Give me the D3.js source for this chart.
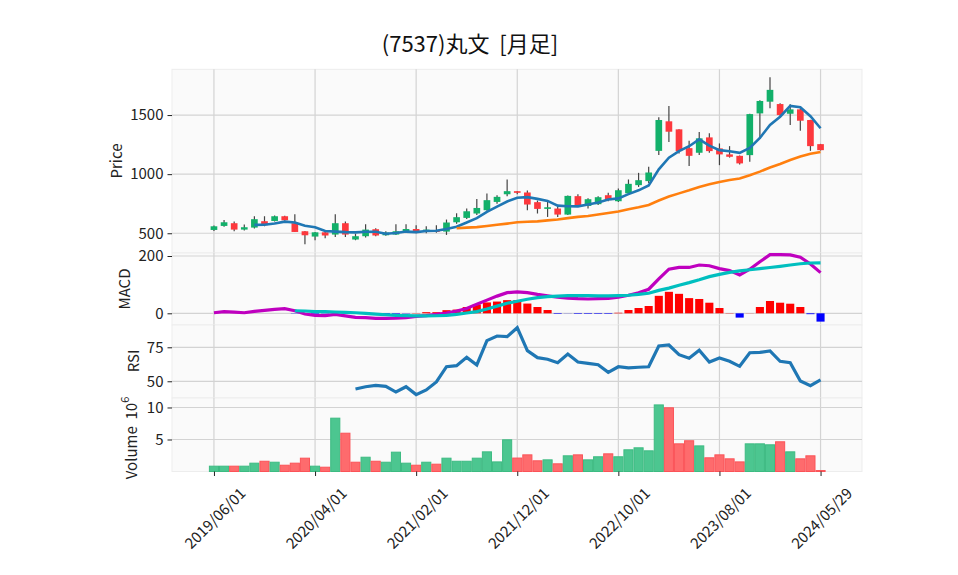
<!DOCTYPE html>
<html><head><meta charset="utf-8">
<script src="https://cdn.jsdelivr.net/npm/d3@7"></script>
<style>
body{margin:0;background:#fff}
text{font-family:"Noto Sans CJK JP","DejaVu Sans",sans-serif}
</style>
</head><body><svg id="c" width="958" height="575"></svg>
<script>
// ---------------- data ----------------
const dates = ["2019/06/01","2019/07/01","2019/08/01","2019/09/01","2019/10/01","2019/11/01","2019/12/01",
"2020/01/01","2020/02/01","2020/03/01","2020/04/01","2020/05/01","2020/06/01","2020/07/01","2020/08/01","2020/09/01","2020/10/01","2020/11/01","2020/12/01",
"2021/01/01","2021/02/01","2021/03/01","2021/04/01","2021/05/01","2021/06/01","2021/07/01","2021/08/01","2021/09/01","2021/10/01","2021/11/01","2021/12/01",
"2022/01/01","2022/02/01","2022/03/01","2022/04/01","2022/05/01","2022/06/01","2022/07/01","2022/08/01","2022/09/01","2022/10/01","2022/11/01","2022/12/01",
"2023/01/01","2023/02/01","2023/03/01","2023/04/01","2023/05/01","2023/06/01","2023/07/01","2023/08/01","2023/09/01","2023/10/01","2023/11/01","2023/12/01",
"2024/01/01","2024/02/01","2024/03/01","2024/04/01","2024/05/01","2024/05/29"];
const opens  = [528,562,585,531,548,602,604,644,585,517,472,508,489,585,447,475,534,483,489,506,536,515,527,514,593,630,667,695,765,830,856,845,763,706,709,658,814,731,746,822,771,838,907,941,1197,1447,1379,1220,1181,1311,1218,1167,1155,1161,1514,1613,1593,1511,1548,1458,1254];
const highs  = [565,612,599,574,644,644,650,648,661,520,510,512,661,599,497,576,542,517,576,576,568,559,568,616,669,709,790,836,822,955,858,862,777,771,729,819,830,797,814,842,879,955,1011,1062,1481,1576,1380,1282,1356,1345,1260,1237,1158,1512,1625,1820,1600,1591,1555,1460,1256];
const lows   = [520,556,517,523,540,559,600,605,511,407,441,458,469,469,441,464,475,478,485,504,500,500,505,486,580,620,655,690,750,813,830,695,667,638,638,655,723,709,740,771,765,830,892,926,1161,1271,1175,1068,1161,1181,1076,1140,1082,1104,1297,1557,1495,1415,1367,1197,1200];
const closes = [559,593,531,551,619,568,644,610,511,483,508,481,585,489,475,531,481,506,517,536,508,531,511,591,636,686,714,780,808,856,842,743,706,720,658,816,737,788,805,780,864,918,949,1014,1458,1359,1195,1155,1303,1195,1167,1147,1091,1508,1619,1713,1500,1548,1452,1237,1203];
const volumesM = [0.83,0.83,0.83,0.83,1.3,1.6,1.45,0.98,1.3,2.08,0.83,0.67,8.33,5.98,1.45,2.23,1.6,1.45,3.02,1.3,0.98,1.45,1.14,2.08,1.6,1.6,2.08,3.07,1.5,4.95,2.1,2.6,1.67,1.82,1.2,2.45,2.6,1.82,2.3,2.76,2.3,3.39,3.7,3.23,10.4,9.95,4.32,4.8,4.0,2.14,2.6,1.98,1.5,4.32,4.32,4.17,4.64,3.07,1.98,2.45,0.15];
const macdLine = [2,5.6,4,2,7,10.5,14,16,9,-2.4,-7,-8,-4,-9,-14,-15,-18,-18,-17,-15,-11,-8,-4,1,8,17,32,46,60,72,75,72,66,61,56,53,51,50,51,52,56,63,72,84,120,154,160.5,160,168.6,166,156,149,134,154,180,204.6,205,204,195.6,172,142];
const signalLine = [null,null,null,null,null,null,null,null,9,8,6,6,4.5,3.5,2,0,-2.7,-5,-7,-8,-9,-9,-8.5,-7,-4,1,6,15,25,35,42,49,55,58,60,62,62,62,61,61,62,63,66,70,80,88,98,107,117,128,136,143,148,152,156,160,164,168.6,173,175.6,176];
const macdHist = [null,null,null,null,null,null,null,null,-1,-2,-2,-1,-1,-1,-1,-1,-3,-3,-2,-1,1,4,4,11,13,22,31,38,41,46,46,34,22,11.5,-2,-0.5,-2,-2,-2,-2,2,11.5,18.5,25.5,61,75,68,53,50,37,18.5,1,-15,0.5,22,43,37,33.5,22,-3,-29];
const rsiValues = [null,null,null,null,null,null,null,null,null,null,null,null,null,null,44.3,46,47,46.3,42.1,46,40.2,43.6,49.5,60.7,61.5,67.6,62,79.9,83.3,82.8,89.4,72.5,67.4,66.2,63.7,70.1,64.2,63.2,62.2,56.6,60.7,59.8,60.3,60.7,76,76.7,69.6,66.9,72.8,64.2,67.1,64.7,61,71,71.3,72.3,64.7,63.7,50.2,46.8,51];
const xTickIdx = [0,10,20,30,40,50,60];
const priceTicks = [500,1000,1500];
const macdTicks = [0,200];
const rsiTicks = [50,75];
const volTicks = [5,10];
const maPeriods = [5,25];
const titleText = "(7537)丸文\u00a0\u00a0[月足]";

// ---------------- layout ----------------
const FONT = '"Noto Sans CJK JP","DejaVu Sans",sans-serif';
const FS = 15;
const svg = d3.select("#c");
const L = 172, R = 862;
const panels = {
  price:{top:69.3,bottom:253},
  macd:{top:253,bottom:325},
  rsi:{top:325,bottom:398},
  vol:{top:398,bottom:471.5}
};
const x = d3.scaleLinear().domain([-4.15,64.1]).range([L,R]);
const yP = d3.scaleLinear().domain([333,1887]).range([panels.price.bottom,panels.price.top]);
const yM = d3.scaleLinear().domain([-40.8,210.5]).range([panels.macd.bottom,panels.macd.top]);
const yR = d3.scaleLinear().domain([37.7,91.4]).range([panels.rsi.bottom,panels.rsi.top]);
const yV = d3.scaleLinear().domain([0,11.48]).range([panels.vol.bottom,panels.vol.top]);

const UP="#12b06a", DOWN="#fd383d";
const VUP="#4cc690", VDOWN="#fe6b6d", VUPE="#3dbb82", VDOWNE="#fb5358";
const GRID="#d3d3d3";

function panel(p, y, ticks){
  const g = svg.append("g");
  g.append("rect").attr("x",L).attr("y",p.top).attr("width",R-L).attr("height",p.bottom-p.top)
    .attr("fill","#fafafa").attr("stroke","#ededed").attr("stroke-width",1);
  g.selectAll("line.v").data(xTickIdx).join("line")
    .attr("x1",d=>x(d)).attr("x2",d=>x(d)).attr("y1",p.top).attr("y2",p.bottom)
    .attr("stroke",GRID).attr("stroke-width",1.2);
  g.selectAll("line.h").data(ticks).join("line")
    .attr("x1",L).attr("x2",R).attr("y1",d=>y(d)).attr("y2",d=>y(d))
    .attr("stroke",GRID).attr("stroke-width",1.2);
  const ax = svg.append("g").attr("transform",`translate(${L},0)`)
    .call(d3.axisLeft(y).tickValues(ticks).tickFormat(d3.format("d")).tickSize(4.5).tickPadding(4));
  ax.select(".domain").remove();
  ax.selectAll("text").attr("font-size",FS).attr("fill","#222").style("font-family",FONT);
  ax.selectAll("line").attr("stroke","#222");
  return g;
}
panel(panels.price,yP,priceTicks);
panel(panels.macd,yM,macdTicks);
panel(panels.rsi,yR,rsiTicks);
panel(panels.vol,yV,volTicks);

const idx = d3.range(dates.length);

// ---------------- candles ----------------
const cg = svg.append("g");
cg.selectAll("line.wick").data(idx).join("line")
  .attr("x1",i=>x(i)).attr("x2",i=>x(i)).attr("y1",i=>yP(highs[i])).attr("y2",i=>yP(lows[i]))
  .attr("stroke","#444").attr("stroke-width",1.2);
const bw = (x(1)-x(0))*0.66;
cg.selectAll("rect.body").data(idx).join("rect")
  .attr("x",i=>x(i)-bw/2).attr("width",bw)
  .attr("y",i=>yP(Math.max(opens[i],closes[i])))
  .attr("height",i=>Math.max(1.2,Math.abs(yP(opens[i])-yP(closes[i]))))
  .attr("fill",i=>closes[i]>=opens[i]?UP:DOWN);

// moving averages (rolling mean of closes)
const maColors = ["#1f77b4","#ff7f0e"];
maPeriods.forEach((p,k)=>{
  const ma = closes.map((c,i)=> i<p-1?null:d3.mean(closes.slice(i-p+1,i+1)));
  svg.append("path").datum(idx.filter(i=>ma[i]!==null))
    .attr("d",d3.line().x(i=>x(i)).y(i=>yP(ma[i])))
    .attr("fill","none").attr("stroke",maColors[k]).attr("stroke-width",2.6);
});

// ---------------- MACD ----------------
const hw = (x(1)-x(0))*0.8;
svg.append("g").selectAll("rect").data(idx.filter(i=>macdHist[i]!==null)).join("rect")
  .attr("x",i=>x(i)-hw/2).attr("width",hw)
  .attr("y",i=>yM(Math.max(0,macdHist[i]))).attr("height",i=>Math.abs(yM(macdHist[i])-yM(0)))
  .attr("fill",i=>macdHist[i]>=0?"#ff0000":"#0000ff");
svg.append("path").datum(idx)
  .attr("d",d3.line().x(i=>x(i)).y(i=>yM(macdLine[i])))
  .attr("fill","none").attr("stroke","#bf00bf").attr("stroke-width",3.2);
svg.append("path").datum(idx.filter(i=>signalLine[i]!==null))
  .attr("d",d3.line().x(i=>x(i)).y(i=>yM(signalLine[i])))
  .attr("fill","none").attr("stroke","#00bfbf").attr("stroke-width",3.2);

// ---------------- RSI ----------------
svg.append("path").datum(idx.filter(i=>rsiValues[i]!==null))
  .attr("d",d3.line().x(i=>x(i)).y(i=>yR(rsiValues[i])))
  .attr("fill","none").attr("stroke","#1f77b4").attr("stroke-width",3.2);

// ---------------- Volume ----------------
const vw = (x(1)-x(0));
svg.append("g").selectAll("rect").data(idx).join("rect")
  .attr("x",i=>x(i)-vw/2+0.5).attr("width",vw-1)
  .attr("y",i=>yV(volumesM[i])).attr("height",i=>yV(0)-yV(volumesM[i]))
  .attr("fill",i=>(i===0||closes[i]>=closes[i-1])?VUP:VDOWN)
  .attr("stroke",i=>(i===0||closes[i]>=closes[i-1])?VUPE:VDOWNE).attr("stroke-width",1);

// ---------------- X axis ----------------
const xa = svg.append("g").attr("transform",`translate(0,${panels.vol.bottom})`)
  .call(d3.axisBottom(x).tickValues(xTickIdx).tickFormat(i=>dates[i]).tickSize(4.5));
xa.select(".domain").remove();
xa.selectAll("line").attr("stroke","#222");
xa.selectAll("text").attr("font-size",FS).attr("fill","#222").style("font-family",FONT)
  .attr("y",null).attr("dy",null).attr("text-anchor","middle").attr("dominant-baseline","central")
  .attr("transform","translate(0,46) rotate(-45)");

// ---------------- labels ----------------
function ylab(txt,cx,cy){
  return svg.append("text").attr("transform",`translate(${cx},${cy}) rotate(-90)`)
    .attr("text-anchor","middle").attr("dominant-baseline","central")
    .attr("font-size",FS).attr("fill","#222").text(txt);
}
ylab("Price",115,161);
ylab("MACD",123,289);
ylab("RSI",132,361);
const vl = ylab("Volume\u00a0\u00a0",130,438);
vl.append("tspan").text("10");
vl.append("tspan").attr("dy",-6).attr("font-size",11).text("6");

svg.append("text").attr("x",470).attr("y",52).attr("text-anchor","middle")
  .attr("font-size",22).attr("fill","#111").text(titleText);
</script>
</body></html>
